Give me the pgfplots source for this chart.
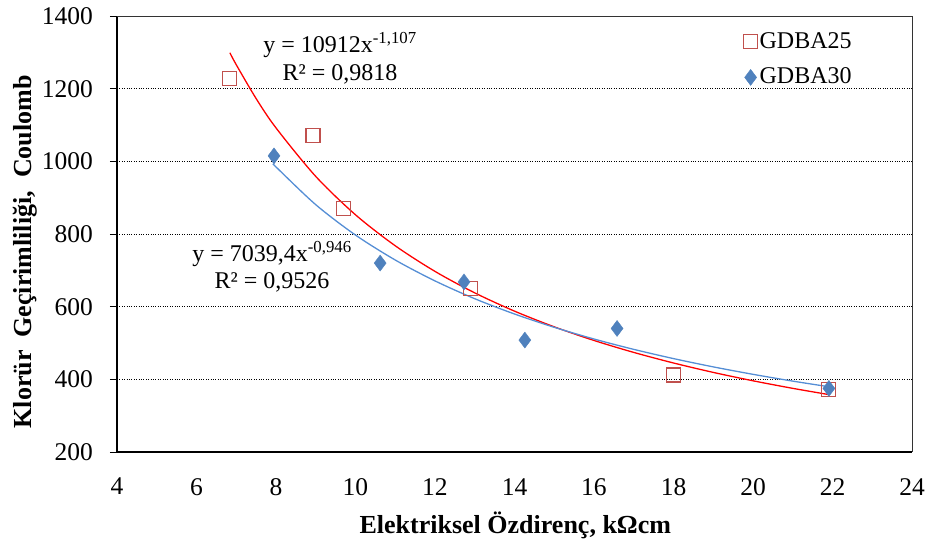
\documentclass[border=0pt]{standalone}
\usepackage{fontspec}
\setmainfont{Liberation Serif}
\usepackage{pgfplots}
\pgfplotsset{compat=1.18}
\definecolor{rsq}{HTML}{C0504D}
\definecolor{bdia}{HTML}{4F81BD}
\definecolor{bline}{HTML}{558ED5}
\begin{document}
\fontsize{24}{28}\selectfont
\begin{tikzpicture}
\path[use as bounding box] (-117pt,-90pt) rectangle (813pt,436pt+16pt);
\begin{axis}[
 at={(0,0)}, anchor=south west,
 scale only axis, width=795pt, height=436pt,
 xmin=4, xmax=24, ymin=200, ymax=1400,
 xtick={4,6,...,24}, ytick={200,400,...,1400},
 ymajorgrids, grid style={black, dotted, line width=0.8pt},
 axis x line*=bottom, axis y line*=left,
 axis line style={line width=1.6pt, -},
 tick align=outside, major tick length=7pt,
 x tick style={draw=none},
 y tick style={black, line width=1pt},
 ticklabel style={font=\fontsize{25.5}{29}\selectfont},
 /pgf/number format/assume math mode=true,
 /pgf/number format/set thousands separator={},
 xticklabel style={yshift=-11pt},
 yticklabel style={xshift=-9pt},
 xlabel={\bfseries Elektriksel Özdirenç, kΩcm},
 ylabel={\bfseries Klorür\ \ Geçirimliliği,\ \ Coulomb},
 xlabel style={at={(axis description cs:0.501,-0.186)}, anchor=base, font=\fontsize{26}{30}\selectfont},
 ylabel style={at={(axis description cs:-0.108,0.459)}, anchor=base, font=\fontsize{26}{30}\selectfont},
 legend style={draw=none, fill=none, at={(rel axis cs:0.788,0.968)}, anchor=north west,
   font=\fontsize{24}{28}\selectfont, row sep=12pt, inner sep=0pt},
 legend cell align=left,
 clip=false,
]
\addplot[rsq, only marks, mark=square, mark size=7pt, mark options={draw=rsq, fill=white, line width=1.1pt}]
 coordinates {(6.84,1227) (8.93,1070) (9.69,869) (12.9,649) (17.99,412) (21.91,373)};
\addlegendentry{GDBA25}
\addplot[bdia, only marks, mark=diamond*, mark size=8pt, mark options={draw=bdia, fill=bdia}]
 coordinates {(7.95,1015) (10.62,720) (12.73,668) (14.26,508) (16.58,540) (21.91,375)};
\addlegendentry{GDBA30}
\addplot[red, line width=1.3pt, smooth, forget plot] coordinates {
 (6.84,1298.8) (7,1265.9) (7.5,1172.8) (8,1092.0) (9,958.5) (10,852.9) (11,767.6) (12,697.1)
 (13,638.0) (14,587.7) (15,544.5) (16,507.0) (17,474.1) (18,445.0) (19,419.1) (20,396.0)
 (21,375.2) (21.9,358.2)};
\addplot[bline, line width=1.3pt, smooth, forget plot] coordinates {
 (7.95,990.3) (8,984.5) (9,880.7) (10,797.1) (11,728.4) (12,670.9) (13,621.9) (14,579.8)
 (15,543.2) (16,511.0) (17,482.5) (18,457.1) (19,434.3) (20,413.8) (21,395.1) (22,378.1)};
\draw[line width=0.8pt, black!80] (rel axis cs:0,1) -- (rel axis cs:1,1) -- (rel axis cs:1,0);
\node[font=\fontsize{24}{28}\selectfont] at (axis cs:9.61,1320) {y = 10912x\textsuperscript{-1,107}};
\node[font=\fontsize{24}{28}\selectfont] at (axis cs:9.61,1240) {R² = 0,9818};
\node[font=\fontsize{24}{28}\selectfont] at (axis cs:7.9,745) {y = 7039,4x\textsuperscript{-0,946}};
\node[font=\fontsize{24}{28}\selectfont] at (axis cs:7.9,668) {R² = 0,9526};
\end{axis}
\end{tikzpicture}
\end{document}
